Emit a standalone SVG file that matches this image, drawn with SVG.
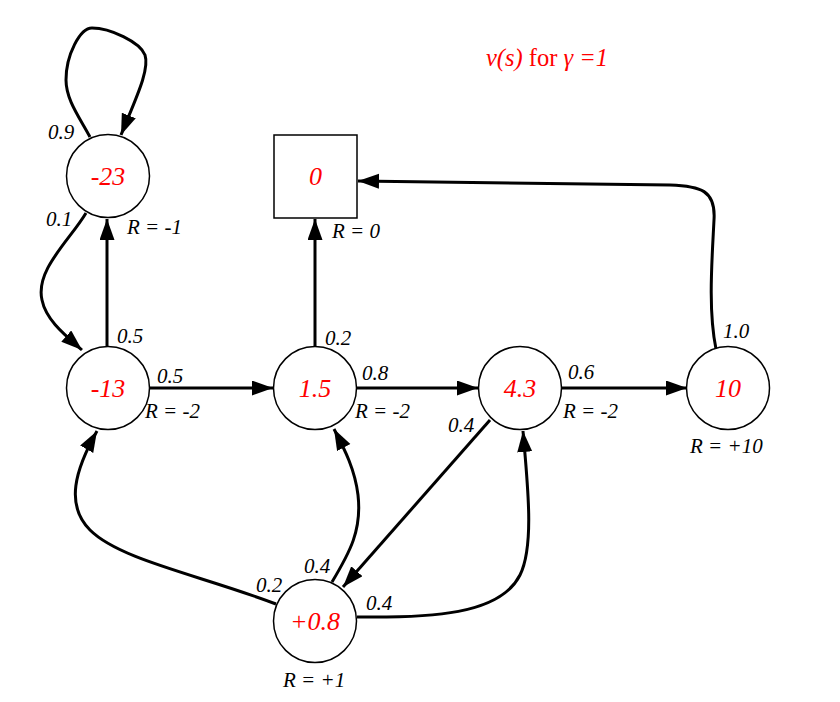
<svg xmlns="http://www.w3.org/2000/svg" width="840" height="702" viewBox="0 0 840 702" font-family="Liberation Serif, Times New Roman, serif">
<style>
.node{fill:#fff;stroke:#000;stroke-width:1.5}
.val{font-style:italic;font-size:26px;fill:#ff0000;text-anchor:middle}
.lbl{font-style:italic;font-size:21px;fill:#000}
.edge{fill:none;stroke:#000;stroke-width:3;marker-end:url(#ah)}
.title{font-size:24.5px;fill:#ff0000}
</style>
<defs>
<marker id="ah" markerUnits="userSpaceOnUse" markerWidth="22" markerHeight="16" refX="21" refY="7.5" orient="auto">
<path d="M0,0 L21,7.5 L0,15 z" fill="#000"/>
</marker>
</defs>
<rect width="840" height="702" fill="#fff"/>
<text class="title" x="486" y="66"><tspan font-style="italic">v(s)</tspan> for <tspan font-style="italic">γ =1</tspan></text>
<g id="connectors">
<path class="edge" d="M 90 137 C 80 118, 66 100, 66 80 C 66 55, 80 28, 92 28 C 110 28, 140 42, 145 55 C 150 70, 135 100, 121 135"/>
<path class="edge" d="M 86 213 C 70 240, 35 270, 42 300 C 46 320, 65 335, 82 350"/>
<path class="edge" d="M 107 346 L 107 219"/>
<path class="edge" d="M 149 388 L 273 388"/>
<path class="edge" d="M 315 346 L 315 219"/>
<path class="edge" d="M 356 388 L 478 388"/>
<path class="edge" d="M 562 388 L 687 388"/>
<path class="edge" d="M 716 349 C 708 310, 712 260, 714 220 C 716 190, 700 186, 670 185 L 358 181"/>
<path class="edge" d="M 490 420 L 343 587"/>
<path class="edge" d="M 332 582 C 350 552, 362 530, 358 495 C 355 470, 345 450, 334 429"/>
<path class="edge" d="M 357 617 C 430 618, 500 615, 520 575 C 535 545, 527 480, 523 431"/>
<path class="edge" d="M 276 604 C 200 575, 120 560, 90 530 C 65 505, 75 470, 97 431"/>
</g>
<g id="n_m23"><circle class="node" cx="108" cy="176" r="41.5"/><text class="val" x="108" y="185">-23</text></g>
<g id="n_term"><rect class="node" x="274" y="135" width="83" height="83"/><text class="val" x="315.5" y="185">0</text></g>
<g id="n_m13"><circle class="node" cx="108" cy="388" r="41.5"/><text class="val" x="108" y="397">-13</text></g>
<g id="n_15"><circle class="node" cx="315" cy="388" r="41.5"/><text class="val" x="315" y="397">1.5</text></g>
<g id="n_43"><circle class="node" cx="520" cy="388" r="41.5"/><text class="val" x="520" y="397">4.3</text></g>
<g id="n_10"><circle class="node" cx="728" cy="388" r="41.5"/><text class="val" x="728" y="397">10</text></g>
<g id="n_08"><circle class="node" cx="315" cy="621" r="41.5"/><text class="val" x="315" y="630">+0.8</text></g>
<g id="labels">
<text class="lbl" x="48" y="139">0.9</text>
<text class="lbl" x="46" y="226">0.1</text>
<text class="lbl" x="127" y="234">R = -1</text>
<text class="lbl" x="332" y="238">R = 0</text>
<text class="lbl" x="117" y="343">0.5</text>
<text class="lbl" x="157" y="383">0.5</text>
<text class="lbl" x="145" y="418">R = -2</text>
<text class="lbl" x="325" y="345">0.2</text>
<text class="lbl" x="362" y="380">0.8</text>
<text class="lbl" x="355" y="418">R = -2</text>
<text class="lbl" x="448" y="432">0.4</text>
<text class="lbl" x="568" y="379">0.6</text>
<text class="lbl" x="563" y="418">R = -2</text>
<text class="lbl" x="723" y="338">1.0</text>
<text class="lbl" x="690" y="453">R = +10</text>
<text class="lbl" x="256" y="592">0.2</text>
<text class="lbl" x="304" y="573">0.4</text>
<text class="lbl" x="366" y="610">0.4</text>
<text class="lbl" x="283" y="687">R = +1</text>
</g>
</svg>
